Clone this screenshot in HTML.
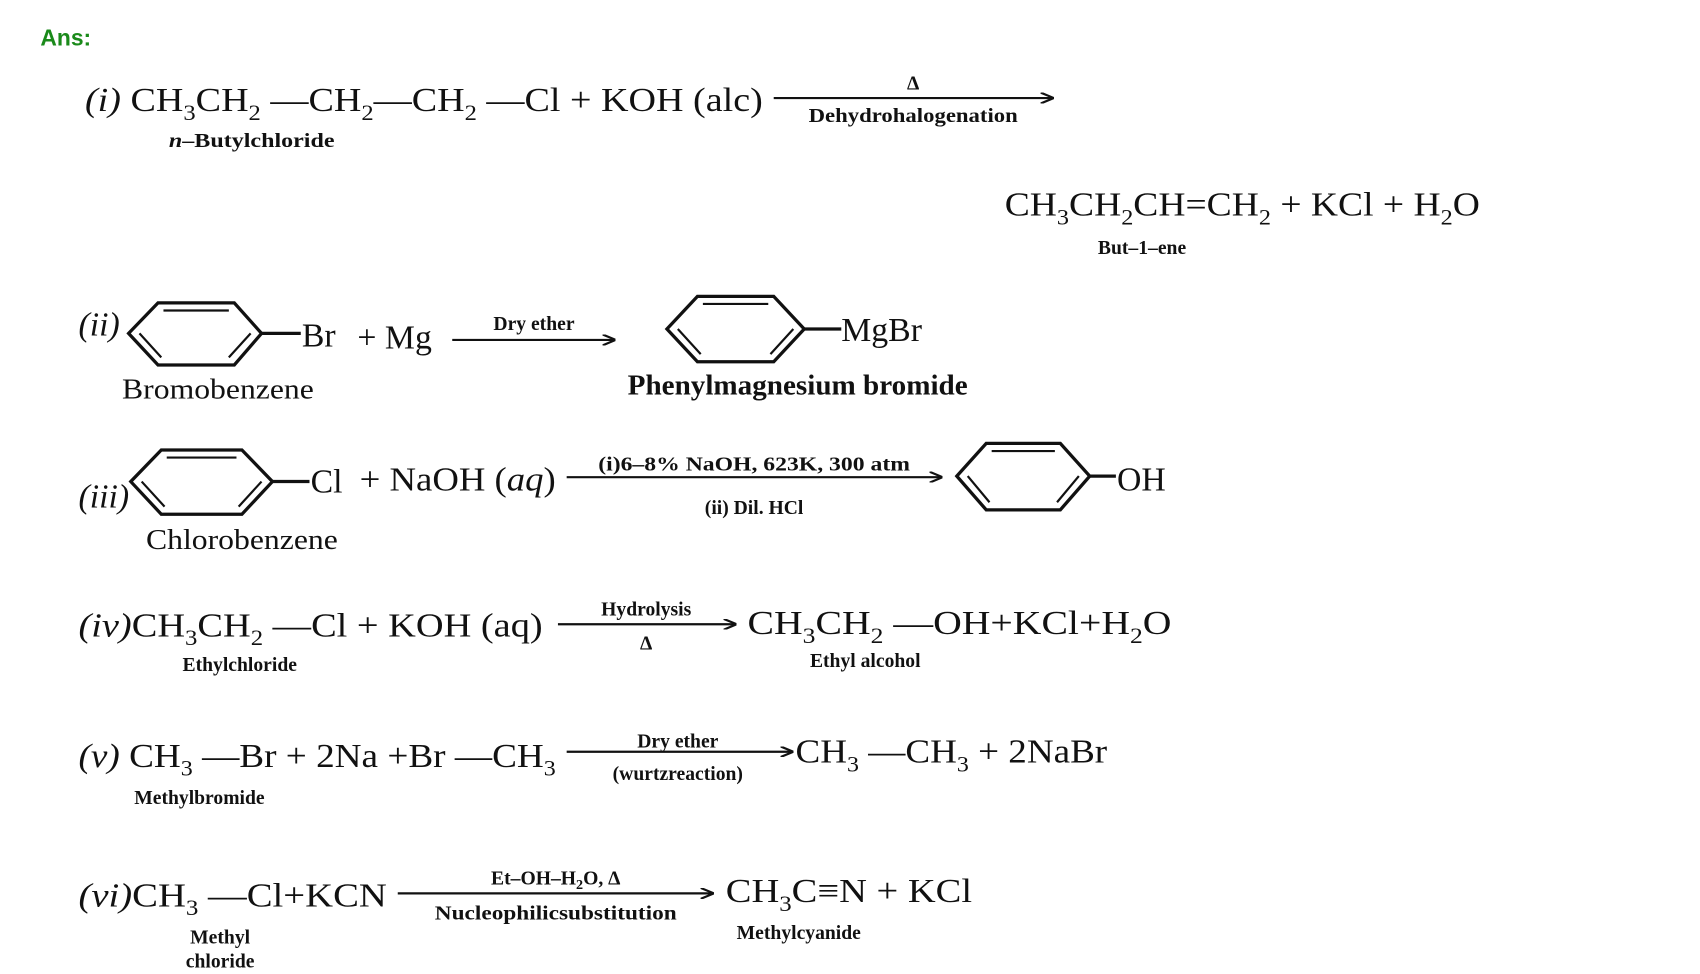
<!DOCTYPE html>
<html><head><meta charset="utf-8"><style>
html,body{margin:0;padding:0;background:#fff;}
svg{display:block;}
text{font-family:"Liberation Serif",serif;fill:#111;}
.m{font-size:31px;}
.l{font-size:18px;font-weight:bold;}
.c{text-anchor:middle;}
</style></head><body>
<svg width="1700" height="974" viewBox="0 0 1560 894" preserveAspectRatio="none">
<defs><marker id="a" markerWidth="12" markerHeight="10" refX="11" refY="5" orient="auto" markerUnits="userSpaceOnUse"><path d="M0,0 L12,5 L0,10" fill="none" stroke="#111" stroke-width="2"/></marker></defs>
<g stroke="#111" stroke-width="2" fill="none">
<line x1="710" y1="90" x2="966" y2="90" marker-end="url(#a)"/>
<line x1="415" y1="312" x2="564" y2="312" marker-end="url(#a)"/>
<line x1="520" y1="438" x2="864" y2="438" marker-end="url(#a)"/>
<line x1="512" y1="573" x2="675" y2="573" marker-end="url(#a)"/>
<line x1="520" y1="690" x2="727" y2="690" marker-end="url(#a)"/>
<line x1="365" y1="820" x2="654" y2="820" marker-end="url(#a)"/>
</g>
<g stroke="#111" stroke-width="3" fill="none">
<path d="M118,306 L145,278 L215,278 L240,306 L215,335 L145,335 Z"/>
<path d="M150,285 L210,285 M128,306 L148,328 M210,328 L230,306" stroke-width="2"/>
<line x1="240" y1="306" x2="276" y2="306"/>
<path d="M612,302 L640,272 L710,272 L738,302 L710,332 L640,332 Z"/>
<path d="M645,279 L705,279 M622,302 L643,325 M707,325 L728,302" stroke-width="2"/>
<line x1="738" y1="302" x2="772" y2="302"/>
<path d="M120,442 L148,413 L222,413 L250,442 L222,472 L148,472 Z"/>
<path d="M153,420 L217,420 M130,442 L151,465 M219,465 L240,442" stroke-width="2"/>
<line x1="250" y1="442" x2="284" y2="442"/>
<path d="M878,437 L905,407 L973,407 L1000,437 L973,468 L905,468 Z"/>
<path d="M910,414 L968,414 M888,437 L908,461 M970,461 L990,437" stroke-width="2"/>
<line x1="1000" y1="437" x2="1024" y2="437"/>
</g>
<text x="37" y="42" style="font-family:'Liberation Sans',sans-serif;font-size:21px;font-weight:bold;fill:#1a8a1a">Ans:</text>

<text class="m" x="78" y="102" textLength="622" lengthAdjust="spacingAndGlyphs"><tspan font-style="italic">(i)</tspan> CH<tspan font-size="20" dy="8">3</tspan><tspan dy="-8">CH</tspan><tspan font-size="20" dy="8">2</tspan><tspan dy="-8"> —CH</tspan><tspan font-size="20" dy="8">2</tspan><tspan dy="-8">—CH</tspan><tspan font-size="20" dy="8">2</tspan><tspan dy="-8"> —Cl + KOH (alc)</tspan></text>
<text class="l c" x="838" y="82">Δ</text>
<text class="l c" x="838" y="112" textLength="192" lengthAdjust="spacingAndGlyphs">Dehydrohalogenation</text>
<text class="l" x="155" y="135" textLength="152" lengthAdjust="spacingAndGlyphs"><tspan font-style="italic">n</tspan>–Butylchloride</text>
<text class="m" x="922" y="198" textLength="436" lengthAdjust="spacingAndGlyphs">CH<tspan font-size="20" dy="8">3</tspan><tspan dy="-8">CH</tspan><tspan font-size="20" dy="8">2</tspan><tspan dy="-8">CH=CH</tspan><tspan font-size="20" dy="8">2</tspan><tspan dy="-8"> + KCl + H</tspan><tspan font-size="20" dy="8">2</tspan><tspan dy="-8">O</tspan></text>
<text class="l c" x="1048" y="233">But–1–ene</text>

<text class="m" x="72" y="308" font-style="italic">(ii)</text>
<text class="m" x="277" y="318">Br</text>
<text class="m" x="328" y="320">+ Mg</text>
<text class="l c" x="490" y="303">Dry ether</text>
<text class="m" x="772" y="313">MgBr</text>
<text class="m c" x="200" y="366" font-size="26" textLength="176" lengthAdjust="spacingAndGlyphs" style="font-size:26px">Bromobenzene</text>
<text class="c" x="732" y="362" textLength="312" lengthAdjust="spacingAndGlyphs" style="font-size:26px;font-weight:bold">Phenylmagnesium bromide</text>

<text class="m" x="72" y="466" font-style="italic">(iii)</text>
<text class="m" x="285" y="452">Cl</text>
<text class="m" x="330" y="450" textLength="180" lengthAdjust="spacingAndGlyphs">+ NaOH (<tspan font-style="italic">aq</tspan>)</text>
<text class="l c" x="692" y="432" textLength="286" lengthAdjust="spacingAndGlyphs">(i)6–8% NaOH, 623K, 300 atm</text>
<text class="l c" x="692" y="472">(ii) Dil. HCl</text>
<text class="m" x="1025" y="450">OH</text>
<text class="c" x="222" y="504" textLength="176" lengthAdjust="spacingAndGlyphs" style="font-size:26px">Chlorobenzene</text>

<text class="m" x="72" y="584" textLength="426" lengthAdjust="spacingAndGlyphs"><tspan font-style="italic">(iv)</tspan>CH<tspan font-size="20" dy="8">3</tspan><tspan dy="-8">CH</tspan><tspan font-size="20" dy="8">2</tspan><tspan dy="-8"> —Cl + KOH (aq)</tspan></text>
<text class="l c" x="593" y="565">Hydrolysis</text>
<text class="l c" x="593" y="596">Δ</text>
<text class="m" x="686" y="582" textLength="389" lengthAdjust="spacingAndGlyphs">CH<tspan font-size="20" dy="8">3</tspan><tspan dy="-8">CH</tspan><tspan font-size="20" dy="8">2</tspan><tspan dy="-8"> —OH+KCl+H</tspan><tspan font-size="20" dy="8">2</tspan><tspan dy="-8">O</tspan></text>
<text class="l c" x="220" y="616">Ethylchloride</text>
<text class="l c" x="794" y="612">Ethyl alcohol</text>

<text class="m" x="72" y="704" textLength="438" lengthAdjust="spacingAndGlyphs"><tspan font-style="italic">(v)</tspan> CH<tspan font-size="20" dy="8">3</tspan><tspan dy="-8"> —Br + 2Na +Br —CH</tspan><tspan font-size="20" dy="8">3</tspan></text>
<text class="l c" x="622" y="686">Dry ether</text>
<text class="l c" x="622" y="716">(wurtzreaction)</text>
<text class="m" x="730" y="700" textLength="286" lengthAdjust="spacingAndGlyphs">CH<tspan font-size="20" dy="8">3</tspan><tspan dy="-8"> —CH</tspan><tspan font-size="20" dy="8">3</tspan><tspan dy="-8"> + 2NaBr</tspan></text>
<text class="l c" x="183" y="738">Methylbromide</text>

<text class="m" x="72" y="832" textLength="283" lengthAdjust="spacingAndGlyphs"><tspan font-style="italic">(vi)</tspan>CH<tspan font-size="20" dy="8">3</tspan><tspan dy="-8"> —Cl+KCN</tspan></text>
<text class="l c" x="510" y="812">Et–OH–H<tspan font-size="13" dy="4">2</tspan><tspan dy="-4">O, Δ</tspan></text>
<text class="l c" x="510" y="844" textLength="222" lengthAdjust="spacingAndGlyphs">Nucleophilicsubstitution</text>
<text class="m" x="666" y="828" textLength="226" lengthAdjust="spacingAndGlyphs">CH<tspan font-size="20" dy="8">3</tspan><tspan dy="-8">C≡N + KCl</tspan></text>
<text class="l c" x="733" y="862">Methylcyanide</text>
<text class="l c" x="202" y="866">Methyl</text>
<text class="l c" x="202" y="888">chloride</text>
</svg>
</body></html>
